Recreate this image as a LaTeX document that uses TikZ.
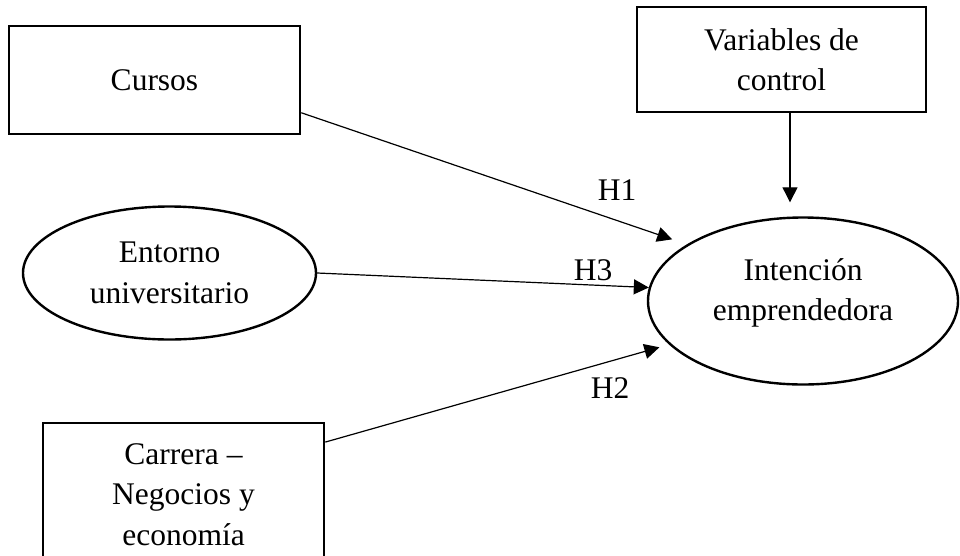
\documentclass[tikz,border=0pt]{standalone}
\usepackage{fontspec}
\setmainfont{Liberation Serif}
\usetikzlibrary{shapes.geometric,arrows.meta,calc}
\begin{document}
\begin{tikzpicture}[x=1pt,y=-1pt,
  every node/.style={font=\fontsize{31.5}{40.5}\selectfont, inner sep=0pt, align=center},
  box/.style={draw, rectangle, line width=2.6pt},
  oval/.style={draw, ellipse, line width=2.4pt},
  arr/.style={line width=1.2pt, -{Triangle[length=15pt,width=15pt]}}
]
\useasboundingbox (0,0) rectangle (960,555);
\node[box, minimum width=291pt, minimum height=108pt] (cursos) at (154.5,80) {Cursos};
\node[box, minimum width=289pt, minimum height=105pt] (var) at (781.5,59.5) {Variables de\\control};
\node[box, minimum width=281pt, minimum height=143pt] (carrera) at (183.5,494.5) {Carrera –\\Negocios y\\economía};
\node[oval, minimum width=293pt, minimum height=133pt] (entorno) at (169.5,273) {Entorno\\universitario};
\node[oval, minimum width=310pt, minimum height=167pt] (ie) at (803,301) {};
\node (ietext) at (803,293) {Intención\\emprendedora};

\draw[arr, shorten >=15.5pt] ($(cursos.south east)!0.2037!(cursos.north east)$) -- (ie.154);
\draw[arr] (entorno.east) -- (ie.175.5);
\draw[arr, shorten >=10pt] ($(carrera.north east)!0.14!(carrera.south east)$) -- (ie.198.6);
\coordinate (vs) at ($(var.south)+(8.5,0)$);
\draw[arr, shorten >=14pt] (vs) -- (vs |- ie.north);

\node (h1) at (617,190) {H1};
\node (h3) at (593,270) {H3};
\node (h2) at (610,388) {H2};
\end{tikzpicture}
\end{document}
